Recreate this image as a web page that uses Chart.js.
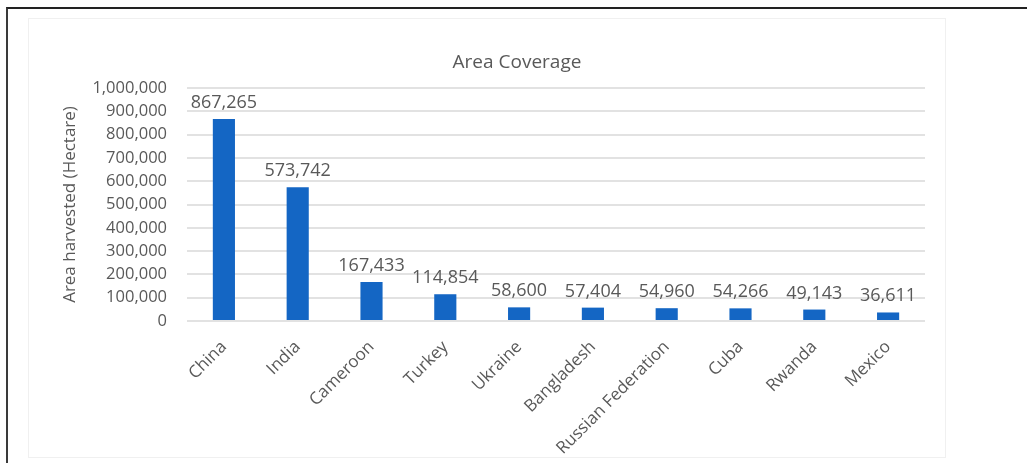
<!DOCTYPE html>
<html>
<head>
<meta charset="utf-8">
<script src="https://cdn.jsdelivr.net/npm/chart.js@4.4.1/dist/chart.umd.min.js"></script>
<style>
    body { margin: 0; background: #fff; font-family: "Open Sans", sans-serif; }
    .frame {
        position: absolute; left: 6px; top: 7px; width: 1021px; height: 460px;
        border-left: 2px solid #3a3a3a; border-top: 2px solid #222;
    }
    .box {
        position: absolute; left: 28px; top: 18px; width: 916px; height: 438px;
        border: 1px solid #f0f0f0; overflow: hidden; background: #fff;
    }
    .title {
        position: absolute; left: 0; width: 1034px; top: 48px; text-align: center;
        font-size: 19px; line-height: 26px; color: #595959;
    }
</style>
</head>
<body>
<div class="frame"></div>
<div class="box">
    <canvas id="barChart" width="916" height="438"></canvas>
</div>
<div class="title">Area Coverage</div>
<script>
// --- DADOS ---
const countries = ['China', 'India', 'Cameroon', 'Turkey', 'Ukraine', 'Bangladesh',
    'Russian Federation', 'Cuba', 'Rwanda', 'Mexico'];
const areaHarvested = [867265, 573742, 167433, 114854, 58600, 57404, 54960, 54266, 49143, 36611];
const yTicks = [0, 100000, 200000, 300000, 400000, 500000, 600000, 700000, 800000, 900000, 1000000];

const textColor = '#595959';

// rótulos de valor acima de cada barra
const valueLabels = {
    id: 'valueLabels',
    afterDatasetsDraw(chart) {
        const ctx = chart.ctx;
        const meta = chart.getDatasetMeta(0);
        ctx.save();
        ctx.font = '18px "Open Sans"';
        ctx.fillStyle = textColor;
        ctx.textAlign = 'center';
        ctx.textBaseline = 'alphabetic';
        meta.data.forEach((bar, i) => {
            ctx.fillText(areaHarvested[i].toLocaleString('en-US'), bar.x, bar.y - 11);
        });
        ctx.restore();
    }
};

const ctx = document.getElementById('barChart').getContext('2d');
new Chart(ctx, {
    type: 'bar',
    data: {
        labels: countries,
        datasets: [{
            data: areaHarvested,
            backgroundColor: '#1466c4',
            barPercentage: 0.3,
            categoryPercentage: 1
        }]
    },
    options: {
        responsive: false,
        animation: false,
        layout: { padding: { top: 69, right: 20, left: 0, bottom: 0 } },
        scales: {
            x: {
                grid: { display: false },
                border: { display: false },
                ticks: {
                    autoSkip: false,
                    maxRotation: 45,
                    minRotation: 45,
                    padding: 8,
                    color: textColor,
                    font: { family: 'Open Sans', size: 17 }
                },
                afterFit: (scale) => { scale.height = 136; }
            },
            y: {
                min: 0,
                max: 1000000,
                afterBuildTicks: (scale) => { scale.ticks = yTicks.map(v => ({ value: v })); },
                grid: { color: '#e2e2e2', lineWidth: 2, drawTicks: false },
                border: { display: false },
                ticks: {
                    autoSkip: false,
                    padding: 20,
                    color: textColor,
                    font: { family: 'Open Sans', size: 16.5 },
                    callback: (v) => v.toLocaleString('en-US')
                },
                title: {
                    display: true,
                    text: 'Area harvested (Hectare)',
                    color: textColor,
                    font: { family: 'Open Sans', size: 17 },
                    padding: { top: 31, bottom: 0 }
                },
                afterFit: (scale) => { scale.width = 158; }
            }
        },
        plugins: {
            legend: { display: false },
            tooltip: { enabled: false }
        }
    },
    plugins: [valueLabels]
});
</script>
</body>
</html>
